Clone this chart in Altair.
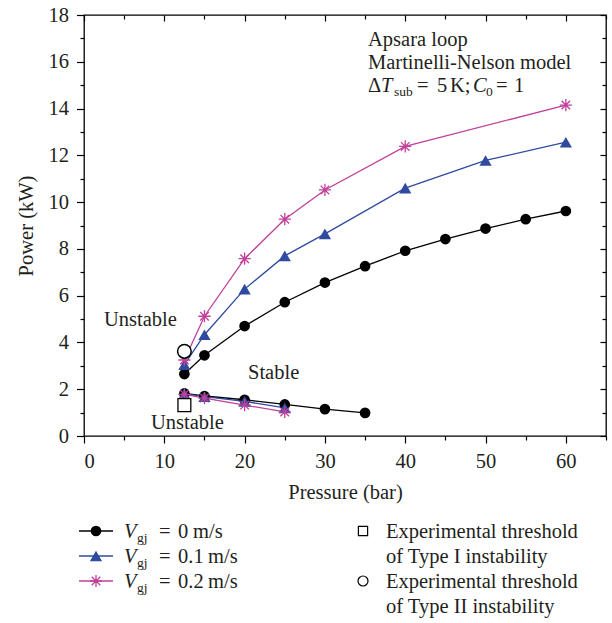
import altair as alt
import pandas as pd

# ---------------- data ----------------
p_v0_upper = [12.5, 15, 20, 25, 30, 35, 40, 45, 50, 55, 60]
w_v0_upper = [2.65, 3.45, 4.70, 5.72, 6.56, 7.26, 7.92, 8.42, 8.87, 9.27, 9.62]
p_v0_lower = [12.5, 15, 20, 25, 30, 35]
w_v0_lower = [1.82, 1.71, 1.55, 1.35, 1.15, 0.99]

p_v1_upper = [12.5, 15, 20, 25, 30, 40, 50, 60]
w_v1_upper = [3.05, 4.33, 6.28, 7.70, 8.64, 10.60, 11.78, 12.56]
p_v1_lower = [12.5, 15, 20, 25]
w_v1_lower = [1.80, 1.68, 1.48, 1.20]

p_v2_upper = [12.5, 15, 20, 25, 30, 40, 60]
w_v2_upper = [3.25, 5.12, 7.58, 9.27, 10.52, 12.38, 14.15]
p_v2_lower = [12.5, 15, 20, 25]
w_v2_lower = [1.78, 1.62, 1.32, 1.03]

exp_type1_p = [12.5]
exp_type1_w = [1.32]
exp_type2_p = [12.5]
exp_type2_w = [3.62]

series_names = ["v0", "v1", "v2"]
series_colors = ["#000000", "#2f4a9e", "#c0409a"]

x_major_ticks = [0, 10, 20, 30, 40, 50, 60]
x_minor_ticks = [5, 15, 25, 35, 45, 55, 65]
y_major_ticks = [0, 2, 4, 6, 8, 10, 12, 14, 16, 18]
y_minor_ticks = [1, 3, 5, 7, 9, 11, 13, 15, 17]

rows = []
for name, branch, ps, ws in [
    ("v0", "up", p_v0_upper, w_v0_upper), ("v0", "lo", p_v0_lower, w_v0_lower),
    ("v1", "up", p_v1_upper, w_v1_upper), ("v1", "lo", p_v1_lower, w_v1_lower),
    ("v2", "up", p_v2_upper, w_v2_upper), ("v2", "lo", p_v2_lower, w_v2_lower),
]:
    for p, w in zip(ps, ws):
        rows.append({"p": p, "w": w, "series": name, "curve": name + "-" + branch})
df = pd.DataFrame(rows)
exp1 = pd.DataFrame({"p": exp_type1_p, "w": exp_type1_w})
exp2 = pd.DataFrame({"p": exp_type2_p, "w": exp_type2_w})
dummy = pd.DataFrame({"a": [0]})

# ---------------- layout ----------------
W, H = 522, 421
LEFT, TOP = 84, 15
FONT = "Liberation Serif"
TXT = "#231f20"
FS = 20.5
SUB = 13.5

xs = alt.Scale(domain=[0, 65], nice=False, zero=False)
ys = alt.Scale(domain=[0, 18], nice=False, zero=False)
color = alt.Color("series:N", scale=alt.Scale(domain=series_names, range=series_colors), legend=None)

STAR = "M0,-1L0,1M-1,0L1,0M-0.7,-0.7L0.7,0.7M-0.7,0.7L0.7,-0.7"

def ax(orient, values, size, labels=False, title="", offset=0, **kw):
    return alt.Axis(orient=orient, values=values, tickSize=size, tickWidth=1.2,
                    tickColor="black", labels=labels, domain=False, grid=False,
                    title=title, offset=offset, labelFont=FONT, labelFontSize=FS,
                    labelColor=TXT, titleFont=FONT, titleFontSize=FS,
                    titleFontWeight="normal", titleColor=TXT, **kw)

def axis_layer(xaxis, yaxis):
    return alt.Chart(df).mark_point(opacity=0).encode(
        x=alt.X("p:Q", scale=xs, axis=xaxis),
        y=alt.Y("w:Q", scale=ys, axis=yaxis))

axes = [
    axis_layer(ax("bottom", x_major_ticks, 7, labels=True, title="Pressure (bar)",
                  labelPadding=8, titlePadding=11),
               ax("left", y_major_ticks, 7.5, labels=True, title="Power (kW)",
                  labelPadding=8, titlePadding=12)),
    axis_layer(ax("bottom", x_minor_ticks, 4), ax("left", y_minor_ticks, 4)),
    axis_layer(ax("bottom", x_major_ticks, 6, offset=-H), ax("left", y_major_ticks, 6, offset=-W)),
    axis_layer(ax("bottom", x_minor_ticks, 4, offset=-H), ax("left", y_minor_ticks, 4, offset=-W)),
]

X = alt.X("p:Q", scale=xs, axis=None)
Y = alt.Y("w:Q", scale=ys, axis=None)

CIRC = dict(shape="circle", filled=True, size=115)
TRI = dict(shape="triangle-up", filled=True, size=150)
STR = dict(shape=STAR, filled=False, size=150, strokeWidth=1.3)

lines = alt.Chart(df).mark_line(strokeWidth=1.3).encode(x=X, y=Y, color=color, detail="curve:N")
circles = alt.Chart(df).transform_filter(alt.datum.series == "v0").mark_point(
    opacity=1, **CIRC).encode(x=X, y=Y, color=color)
tris = alt.Chart(df).transform_filter(alt.datum.series == "v1").mark_point(
    opacity=1, **TRI).encode(x=X, y=Y, color=color)
stars = alt.Chart(df).transform_filter(alt.datum.series == "v2").mark_point(
    opacity=1, **STR).encode(x=X, y=Y, color=color)
sq = alt.Chart(exp1).mark_point(shape="square", filled=True, fill="white", stroke="black",
                                strokeWidth=1.3, size=165, opacity=1).encode(x=X, y=Y)
oc = alt.Chart(exp2).mark_point(shape="circle", filled=True, fill="white", stroke="black",
                                strokeWidth=1.5, size=185, opacity=1).encode(x=X, y=Y)


def txt(s, x, y, size=FS, style="normal"):
    return alt.Chart(dummy).mark_text(text=s, font=FONT, fontSize=size, fontStyle=style,
                                      align="left", baseline="alphabetic", color=TXT).encode(
        x=alt.value(x - LEFT), y=alt.value(y - TOP))


def sym(x, y, **kw):
    return alt.Chart(dummy).mark_point(opacity=1, **kw).encode(
        x=alt.value(x - LEFT), y=alt.value(y - TOP))


def seg(x1, x2, y, c):
    return alt.Chart(dummy).mark_rule(color=c, strokeWidth=1.3).encode(
        x=alt.value(x1 - LEFT), x2=alt.value(x2 - LEFT), y=alt.value(y - TOP))

annot = [
    txt("Apsara loop", 368, 46),
    txt("Martinelli-Nelson model", 368, 69),
    txt("\u0394", 368, 92), txt("T", 381, 92, style="italic"), txt("sub", 394, 96, size=SUB),
    txt("=", 417, 92), txt("5", 437, 92), txt("K;", 450, 92),
    txt("C", 473, 92, style="italic"), txt("0", 486, 96, size=SUB),
    txt("=", 496, 92), txt("1", 514, 92),
    txt("Unstable", 104, 326),
    txt("Stable", 248, 379),
    txt("Unstable", 151, 429),
]

legend = []
row_y = [531, 556, 581, 606]
vals = ["0", "0.1", "0.2"]
unit_x = [193, 208, 208]
for i, shp in enumerate([CIRC, TRI, STR]):
    yc = row_y[i]
    c = series_colors[i]
    legend.append(seg(79, 113, yc, c))
    legend.append(sym(96, yc, color=c, **shp))
    legend.append(txt("V", 124, yc + 7, style="italic"))
    legend.append(txt("gj", 137, yc + 11, size=SUB))
    legend.append(txt("=", 159, yc + 7))
    legend.append(txt(vals[i], 178, yc + 7))
    legend.append(txt("m/s", unit_x[i], yc + 7))

legend += [
    sym(363, row_y[0], shape="square", filled=True, fill="white", stroke="black", strokeWidth=1.2, size=85),
    txt("Experimental threshold", 386, row_y[0] + 7),
    txt("of Type I instability", 386, row_y[1] + 7),
    sym(363, row_y[2], shape="circle", filled=True, fill="white", stroke="black", strokeWidth=1.2, size=100),
    txt("Experimental threshold", 386, row_y[2] + 7),
    txt("of Type II instability", 386, row_y[3] + 7),
]

chart = alt.layer(
    *axes, lines, circles, tris, stars, sq, oc, *annot, *legend
).resolve_axis(x="independent", y="independent").properties(
    width=W, height=H,
    autosize=alt.AutoSizeParams(type="none"),
    padding={"left": LEFT, "top": TOP, "right": 612 - LEFT - W, "bottom": 623 - TOP - H},
    background="white",
).configure_view(stroke="black", strokeWidth=1.3)

chart.save("out.html", embed_options={"renderer": "svg", "actions": False})
